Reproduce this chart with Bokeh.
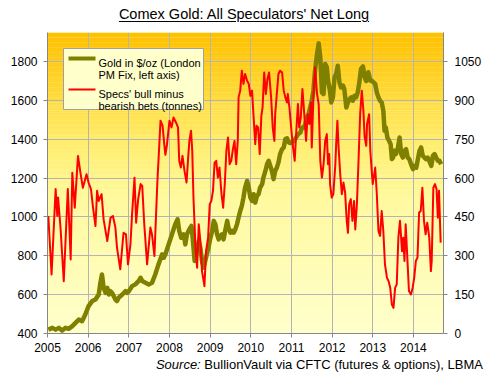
from bokeh.plotting import figure
from bokeh.models import Range1d, LinearAxis, FixedTicker, Label, BoxAnnotation, Div
from bokeh.layouts import column
from bokeh.embed import file_html
from bokeh.resources import INLINE

# ---------------- data ----------------
year_ticks = [2005, 2006, 2007, 2008, 2009, 2010, 2011, 2012, 2013, 2014]
gold_ticks = [400, 600, 800, 1000, 1200, 1400, 1600, 1800]
tonne_ticks = [0, 150, 300, 450, 600, 750, 900, 1050]

gold_year = [2005.02, 2005.12, 2005.20, 2005.28, 2005.36, 2005.44, 2005.52, 2005.61, 2005.69, 2005.77, 2005.85, 2005.93,
             2006.01, 2006.10, 2006.18, 2006.26, 2006.30, 2006.34, 2006.38, 2006.43, 2006.47, 2006.51, 2006.55, 2006.59,
             2006.63, 2006.67, 2006.71, 2006.75, 2006.79, 2006.84, 2006.92, 2006.96,
             2007.00, 2007.08, 2007.16, 2007.24, 2007.29, 2007.33, 2007.41, 2007.49, 2007.57, 2007.65, 2007.73, 2007.82,
             2007.86, 2007.90, 2007.98,
             2008.06, 2008.14, 2008.20, 2008.24, 2008.29, 2008.35, 2008.39, 2008.43, 2008.49, 2008.54, 2008.57, 2008.62,
             2008.68, 2008.72, 2008.76, 2008.80, 2008.84, 2008.88, 2008.92, 2008.96,
             2009.00, 2009.05, 2009.09, 2009.13, 2009.17, 2009.21, 2009.25, 2009.29, 2009.33, 2009.37, 2009.42, 2009.45,
             2009.50, 2009.54, 2009.58, 2009.62, 2009.66, 2009.70, 2009.74, 2009.78, 2009.82, 2009.86, 2009.91, 2009.95,
             2009.99,
             2010.03, 2010.07, 2010.11, 2010.15, 2010.19, 2010.23, 2010.28, 2010.31, 2010.36, 2010.40, 2010.44, 2010.48,
             2010.52, 2010.56, 2010.60, 2010.64, 2010.68, 2010.72, 2010.77, 2010.81, 2010.85, 2010.89, 2010.93, 2010.97,
             2011.01, 2011.05, 2011.09, 2011.14, 2011.17, 2011.22, 2011.26, 2011.30, 2011.34, 2011.38, 2011.42, 2011.46,
             2011.50, 2011.54, 2011.58, 2011.63, 2011.67, 2011.71, 2011.75, 2011.79, 2011.83, 2011.87, 2011.90, 2011.94,
             2011.98,
             2012.02, 2012.06, 2012.10, 2012.14, 2012.18, 2012.22, 2012.27, 2012.30, 2012.35, 2012.39, 2012.43, 2012.47,
             2012.51, 2012.55, 2012.59, 2012.63, 2012.67, 2012.71, 2012.76, 2012.80, 2012.84, 2012.89, 2012.94, 2012.98,
             2013.02, 2013.06, 2013.10, 2013.14, 2013.18, 2013.22, 2013.26, 2013.29, 2013.32, 2013.36, 2013.40, 2013.44,
             2013.47, 2013.50, 2013.53, 2013.57, 2013.62, 2013.66, 2013.70, 2013.74, 2013.78, 2013.82, 2013.86, 2013.90,
             2013.94, 2013.99,
             2014.02, 2014.07, 2014.11, 2014.15, 2014.19, 2014.23, 2014.27, 2014.31, 2014.35, 2014.39, 2014.44, 2014.48,
             2014.52, 2014.56, 2014.60, 2014.64, 2014.68]
gold_usd = [420, 429, 420, 429, 415, 429, 424, 438, 455, 472, 463, 498,
            541, 567, 575, 601, 661, 704, 635, 609, 635, 601, 618, 609,
            592, 575, 567, 584, 592, 601, 618, 609,
            618, 644, 653, 670, 687, 670, 661, 653, 661, 704, 756, 808,
            790, 808, 859,
            910, 962, 988, 928, 893, 911, 859, 911, 937, 954, 893, 773,
            842, 876, 842, 773, 739, 773, 808, 842,
            885, 928, 980, 962, 911, 885, 902, 911, 885, 928, 980, 945,
            919, 928, 919, 937, 962, 997, 1031, 1057, 1100, 1151, 1186, 1151,
            1100,
            1083, 1117, 1074, 1108, 1117, 1151, 1169, 1203, 1237, 1272, 1289, 1263,
            1237, 1195, 1237, 1254, 1280, 1324, 1349, 1358, 1401, 1405, 1385, 1380,
            1385, 1390, 1401, 1418, 1427, 1435, 1461, 1461, 1478, 1512, 1530, 1564,
            1599, 1650, 1753, 1840, 1894, 1822, 1641, 1633, 1788, 1771, 1702, 1659,
            1590,
            1616, 1719, 1736, 1779, 1693, 1667, 1676, 1659, 1564, 1590, 1607, 1616,
            1599, 1624, 1616, 1641, 1693, 1762, 1775, 1720, 1700, 1745, 1702, 1702,
            1693, 1685, 1641, 1616, 1599, 1590, 1547, 1444, 1461, 1409, 1392, 1375,
            1298, 1306, 1341, 1324, 1358, 1409, 1324, 1306, 1341, 1349, 1306, 1298,
            1272, 1246,
            1263, 1254, 1298, 1341, 1358, 1315, 1306, 1298, 1306, 1289, 1263, 1315,
            1324, 1306, 1289, 1289, 1272]

spec_year = [2005.02, 2005.10, 2005.20, 2005.24, 2005.26, 2005.32, 2005.40, 2005.50, 2005.57, 2005.61, 2005.67, 2005.75,
             2005.81, 2005.87, 2005.96,
             2006.01, 2006.07, 2006.12, 2006.18, 2006.22, 2006.26, 2006.33, 2006.38, 2006.47, 2006.55, 2006.61, 2006.67,
             2006.71, 2006.79, 2006.87, 2006.93, 2006.98,
             2007.04, 2007.08, 2007.14, 2007.18, 2007.23, 2007.29, 2007.33, 2007.38, 2007.45, 2007.53, 2007.57, 2007.63,
             2007.70, 2007.78, 2007.83, 2007.88, 2007.90, 2007.94,
             2008.00, 2008.05, 2008.10, 2008.16, 2008.21, 2008.24, 2008.28, 2008.32, 2008.37, 2008.42, 2008.46, 2008.49,
             2008.53, 2008.56, 2008.59, 2008.64, 2008.68, 2008.72, 2008.76, 2008.80, 2008.86, 2008.90, 2008.95, 2008.99,
             2009.03, 2009.07, 2009.11, 2009.15, 2009.19, 2009.23, 2009.28, 2009.32, 2009.36, 2009.40, 2009.44, 2009.48,
             2009.52, 2009.56, 2009.60, 2009.64, 2009.68, 2009.70, 2009.74, 2009.78, 2009.82, 2009.86, 2009.91, 2009.95,
             2009.99,
             2010.03, 2010.07, 2010.11, 2010.14, 2010.18, 2010.22, 2010.26, 2010.29, 2010.33, 2010.37, 2010.41, 2010.45,
             2010.50, 2010.54, 2010.58, 2010.60, 2010.64, 2010.68, 2010.72, 2010.77, 2010.81, 2010.85, 2010.89, 2010.91,
             2010.95,
             2011.00, 2011.03, 2011.08, 2011.12, 2011.16, 2011.19, 2011.23, 2011.27, 2011.31, 2011.36, 2011.40, 2011.44,
             2011.48, 2011.50, 2011.54, 2011.58, 2011.63, 2011.67, 2011.71, 2011.75, 2011.79, 2011.83, 2011.87, 2011.90,
             2011.93, 2011.95, 2011.99,
             2012.03, 2012.08, 2012.10, 2012.13, 2012.16, 2012.20, 2012.24, 2012.28, 2012.32, 2012.36, 2012.39, 2012.42,
             2012.46, 2012.50, 2012.54, 2012.57, 2012.61, 2012.65, 2012.69, 2012.73, 2012.77, 2012.80, 2012.84, 2012.86,
             2012.91, 2012.94, 2012.98,
             2013.00, 2013.06, 2013.10, 2013.14, 2013.18, 2013.22, 2013.26, 2013.30, 2013.35, 2013.39, 2013.43, 2013.47,
             2013.51, 2013.55, 2013.59, 2013.63, 2013.67, 2013.72, 2013.75, 2013.78, 2013.81, 2013.85, 2013.89, 2013.94,
             2013.98,
             2014.02, 2014.06, 2014.10, 2014.14, 2014.18, 2014.22, 2014.26, 2014.30, 2014.34, 2014.39, 2014.43, 2014.45,
             2014.49, 2014.53, 2014.57, 2014.60, 2014.63, 2014.67]
spec_tonnes = [454, 228, 558, 454, 525, 409, 202, 558, 286, 621, 486, 686,
               621, 563, 615,
               583, 557, 486, 415, 551, 512, 538, 441, 357, 447, 454, 409,
               331, 248, 389, 383, 267,
               344, 460, 602, 428, 519, 577, 570, 422, 267, 409, 383, 299,
               577, 822, 802, 718, 690, 731,
               822, 796, 834, 815, 796, 667, 641, 686, 628, 583, 680, 744,
               783, 706, 525, 331, 254, 422, 357, 241, 183, 318, 370, 499,
               512, 551, 660, 667, 602, 641, 538, 486, 577, 706, 757, 654,
               667, 712, 744, 654, 744, 912, 938, 1015, 964, 1002, 976, 964,
               918,
               938, 834, 731, 802, 796, 693, 841, 873, 1008, 925, 983, 1008,
               912, 796, 744, 847, 925, 1002, 1015, 1008, 938, 912, 892, 925,
               873,
               783, 731, 667, 783, 886, 796, 834, 944, 860, 744, 847, 809,
               892, 718, 912, 1028, 925, 886, 667, 602, 654, 744, 770, 654,
               693, 577, 525,
               538, 654, 731, 822, 718, 615, 538, 583, 544, 435, 389, 499,
               519, 435, 512, 402, 499, 667, 847, 938, 860, 760, 725, 809,
               847, 706, 615,
               577, 641, 538, 396, 377, 473, 396, 267, 215, 202, 176, 112,
               99, 176, 190, 370, 435, 318, 370, 280, 422, 293, 164, 151,
               176,
               215, 280, 293, 467, 473, 563, 435, 383, 428, 370, 241, 280,
               563, 577, 557, 447, 551, 351]

TITLE = "Comex Gold: All Speculators' Net Long"
SOURCE_LEAD = "Source:"
SOURCE_TEXT = "BullionVault via CFTC (futures &amp; options), LBMA"
LEGEND_LINES = [("Gold in $/oz (London", "PM Fix, left axis)"),
                ("Specs' bull minus", "bearish bets (tonnes)")]

# ---------------- figure ----------------
X0, X1 = 2005.0, 2014.74
Y0, Y1 = 400, 1950
p = figure(width=484, height=333, output_backend="svg", toolbar_location=None,
           x_range=Range1d(X0, X1), y_range=Range1d(Y0, Y1), margin=0,
           min_border_left=47, min_border_right=41, min_border_top=8, min_border_bottom=24)
p.extra_y_ranges = {"tonnes": Range1d(0, (Y1 - Y0) * 0.75)}
p.outline_line_color = None
p.background_fill_color = "#FFFFCC"
p.border_fill_color = "white"

# vertical colour gradient of the plot area (decoration)
stops = [(0.0, (255, 192, 0)), (0.15, (255, 210, 40)), (0.35, (255, 236, 105)),
         (0.55, (255, 249, 158)), (1.0, (255, 255, 204))]
def grad(t):
    for (t0, c0), (t1, c1) in zip(stops[:-1], stops[1:]):
        if t <= t1:
            f = (t - t0) / (t1 - t0)
            return "#%02x%02x%02x" % tuple(int(round(a + (b - a) * f)) for a, b in zip(c0, c1))
    return "#%02x%02x%02x" % stops[-1][1]
n = 120
h = (Y1 - Y0) / n
bt, bb, bc = [], [], []
for i in range(n):
    top = Y1 - i * h
    bt.append(top + 0.5)
    bb.append(top - h - 0.5)
    bc.append(grad((i + 0.5) / n))
p.quad(left=X0, right=X1, top=bt, bottom=bb, fill_color=bc, line_color=None, level="image")

# grid
p.xgrid.ticker = FixedTicker(ticks=year_ticks)
p.ygrid.ticker = FixedTicker(ticks=gold_ticks)
for g in (p.xgrid, p.ygrid):
    g.grid_line_color = "#B4B4B4"
    g.grid_line_width = 1

# axes
AX = "#868686"
def style(ax, standoff):
    ax.axis_line_color = AX
    ax.major_tick_line_color = AX
    ax.minor_tick_line_color = None
    ax.major_tick_out = 4
    ax.major_tick_in = 0
    ax.major_label_text_font = "Liberation Sans"
    ax.major_label_text_font_size = "12px"
    ax.major_label_text_color = "#000000"
    ax.major_label_standoff = standoff

p.xaxis.ticker = FixedTicker(ticks=year_ticks)
p.yaxis.ticker = FixedTicker(ticks=gold_ticks)
style(p.xaxis[0], 5)
style(p.yaxis[0], 6)
right = LinearAxis(y_range_name="tonnes", ticker=FixedTicker(ticks=tonne_ticks))
style(right, 7)
p.add_layout(right, "right")

# series
p.line(gold_year, gold_usd, line_color="#808000", line_width=4.5, line_join="round")
p.line(spec_year, spec_tonnes, line_color="#FF0000", line_width=2, line_join="round",
       y_range_name="tonnes")

# legend (drawn by hand to match the two-line entries), frame-relative pixels
scr = dict(left_units="screen", right_units="screen", top_units="screen", bottom_units="screen")
p.add_layout(BoxAnnotation(left=16, right=156, top=285, bottom=224, **scr,
                           fill_color="#FFFFCC", fill_alpha=1, line_color="#A0A0A0", line_alpha=1, line_width=1))
p.add_layout(BoxAnnotation(left=21, right=48, top=277, bottom=273, **scr,
                           fill_color="#808000", fill_alpha=1, line_color=None))
p.add_layout(BoxAnnotation(left=21, right=48, top=245, bottom=243, **scr,
                           fill_color="#FF0000", fill_alpha=1, line_color=None))
for (l1, l2), (y1, y2) in zip(LEGEND_LINES, [(271, 259), (239.5, 228)]):
    for txt, yy in ((l1, y1), (l2, y2)):
        p.add_layout(Label(x=51, y=yy, x_units="screen", y_units="screen", text=txt,
                           text_font="Liberation Sans", text_font_size="11px", text_color="#000000",
                           text_baseline="alphabetic", text_align="left"))

title_div = Div(width=484, height=24, margin=0, text=(
    '<div style="width:484px;box-sizing:border-box;font-family:\'Liberation Sans\',Arial,sans-serif;'
    'font-size:14.5px;line-height:17px;padding-top:6px;padding-left:4px;text-align:center;color:#000;'
    'white-space:nowrap;">'
    '<span style="text-decoration:underline;text-underline-offset:2px;">' + TITLE + '</span></div>'))
src_div = Div(width=484, height=14, margin=0, text=(
    '<div style="width:484px;box-sizing:border-box;font-family:\'Liberation Sans\',Arial,sans-serif;'
    'font-size:13px;line-height:13px;margin-top:-1px;text-align:right;padding-right:1px;color:#000;'
    'white-space:nowrap;">'
    '<i>' + SOURCE_LEAD + '</i> ' + SOURCE_TEXT + '</div>'))

layout = column(title_div, p, src_div, spacing=0, margin=0)
open("out.html", "w").write(file_html(layout, INLINE))
